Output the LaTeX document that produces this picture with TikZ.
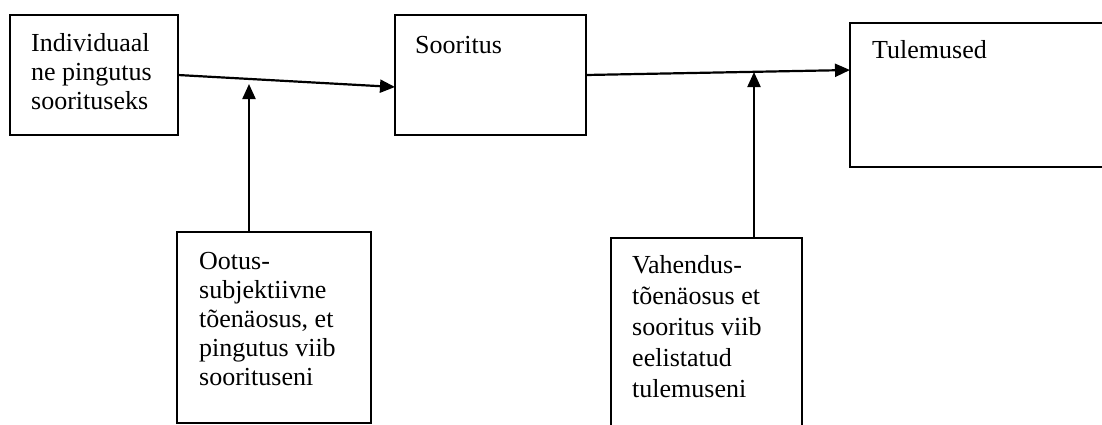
\documentclass[tikz,border=0pt]{standalone}
\usepackage{fontspec}
\setmainfont{Liberation Serif}
\usetikzlibrary{arrows.meta,calc}
\tikzset{
  box/.style={draw, line width=1.7pt, inner sep=0pt, outer sep=0pt, anchor=north west},
  lbl/.style={anchor=base west, align=left, inner sep=0pt, font=\fontsize{26}{29}\selectfont},
  arr/.style={line width=2.2pt, -{Triangle[length=15pt,width=13pt]}}
}
\begin{document}
\begin{tikzpicture}[x=1pt,y=-1pt]
\useasboundingbox (0,0) rectangle (1102,424);
\clip (0,0) rectangle (1102,424);
% boxes
\node[box, minimum width=168pt, minimum height=120pt] (b1) at (10,15) {};
\node[box, minimum width=191pt, minimum height=120pt] (b2) at (395,15) {};
\node[box, minimum width=270pt, minimum height=144pt] (b3) at (850,23) {};
\node[box, minimum width=194pt, minimum height=191pt] (b4) at (177,232) {};
\node[box, minimum width=191pt, minimum height=200pt] (b5) at (611,238) {};
% texts (anchor = baseline of last line)
\node[lbl, font=\fontsize{26}{29}\selectfont] (t1) at (31,109) {Individuaal\\ne pingutus\\soorituseks};
\node[lbl] (t2) at (415,53) {Sooritus};
\node[lbl] (t3) at (872,58) {Tulemused};
\node[lbl, font=\fontsize{26}{29}\selectfont] (t4) at (199,385) {Ootus-\\subjektiivne\\tõenäosus, et\\pingutus viib\\soorituseni};
\node[lbl, font=\fontsize{26}{31}\selectfont] (t5) at (632,397) {Vahendus-\\tõenäosus et\\sooritus viib\\eelistatud\\tulemuseni};
% connectors
\draw[arr] (b1.east) -- ([yshift=-12pt]b2.west);
\coordinate (m1) at (249,84);
\draw[arr] (b4.north -| m1) -- (m1);
\draw[arr] (b2.east) -- ([yshift=25pt]b3.west);
\coordinate (m2) at (754,72);
\draw[arr] (b5.north -| m2) -- (m2);
\end{tikzpicture}
\end{document}
